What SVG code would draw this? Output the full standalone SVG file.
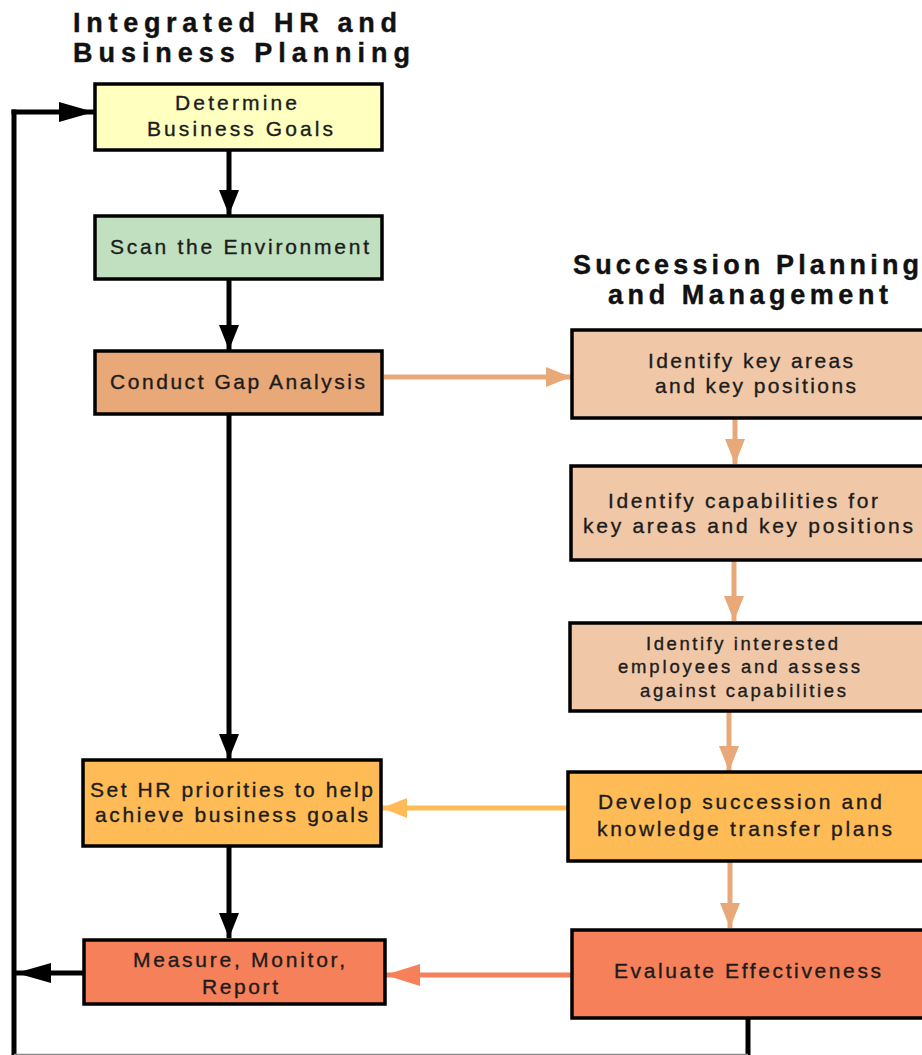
<svg xmlns="http://www.w3.org/2000/svg" width="922" height="1055" viewBox="0 0 922 1055">
<defs>
<style>
.box{stroke:#000;stroke-width:3.5}
.t{font-family:"Liberation Sans",Arial,sans-serif;font-size:21px;fill:#1c1c1c;stroke:#1c1c1c;stroke-width:0.35}
.ts{font-family:"Liberation Sans",Arial,sans-serif;font-size:18.5px;fill:#1c1c1c;stroke:#1c1c1c;stroke-width:0.35}
.title{font-family:"Liberation Sans",Arial,sans-serif;font-size:27px;font-weight:bold;fill:#111;stroke:#111;stroke-width:0.4}
.blk{stroke:#000;stroke-width:5;fill:none}
.org{stroke:#E8A878;stroke-width:5;fill:none}
.yel{stroke:#FFBB55;stroke-width:5;fill:none}
.red{stroke:#F5805A;stroke-width:5;fill:none}
</style>
<marker id="ab" markerUnits="userSpaceOnUse" markerWidth="26" markerHeight="20" refX="25" refY="10" orient="auto"><path d="M0,0 L25,10 L0,20 z" fill="#000"/></marker>
<marker id="ao" markerUnits="userSpaceOnUse" markerWidth="26" markerHeight="20" refX="25" refY="10" orient="auto"><path d="M0,0 L25,10 L0,20 z" fill="#E8A878"/></marker>
<marker id="ay" markerUnits="userSpaceOnUse" markerWidth="26" markerHeight="20" refX="25" refY="10" orient="auto"><path d="M0,0 L25,10 L0,20 z" fill="#FFBB55"/></marker>
<marker id="ar" markerUnits="userSpaceOnUse" markerWidth="36" markerHeight="22" refX="35" refY="11" orient="auto"><path d="M0,0 L35,11 L0,22 z" fill="#F5805A"/></marker>
<marker id="abl" markerUnits="userSpaceOnUse" markerWidth="36" markerHeight="20" refX="35" refY="10" orient="auto"><path d="M0,0 L35,10 L0,20 z" fill="#000"/></marker>
</defs>
<rect width="922" height="1055" fill="#fff"/>

<g id="titles">
<text class="title" x="73" y="32" textLength="324" lengthAdjust="spacing">Integrated HR and</text>
<text class="title" x="73" y="62" textLength="337" lengthAdjust="spacing">Business Planning</text>
<text class="title" x="573" y="274" textLength="346" lengthAdjust="spacing">Succession Planning</text>
<text class="title" x="608" y="304" textLength="280" lengthAdjust="spacing">and Management</text>
</g>

<g id="connectors">
<line class="blk" x1="229" y1="150" x2="229" y2="215" marker-end="url(#ab)"/>
<line class="blk" x1="229" y1="279" x2="229" y2="350" marker-end="url(#ab)"/>
<line class="blk" x1="229" y1="414" x2="229" y2="759" marker-end="url(#ab)"/>
<line class="blk" x1="229" y1="846" x2="229" y2="938" marker-end="url(#ab)"/>
<line class="blk" x1="83" y1="973" x2="16" y2="973" marker-end="url(#abl)"/>
<line class="blk" x1="14" y1="1055" x2="14" y2="109.5"/>
<line class="blk" x1="11.5" y1="112" x2="94" y2="112" marker-end="url(#abl)"/>
<line class="blk" x1="748" y1="1019" x2="748" y2="1055"/>
<line x1="14" y1="1054.5" x2="748" y2="1054.5" stroke="#8a8a8a" stroke-width="1.5"/>
<line class="org" x1="384" y1="377" x2="571" y2="377" marker-end="url(#ao)"/>
<line class="org" x1="735" y1="419" x2="735" y2="464" marker-end="url(#ao)"/>
<line class="org" x1="734" y1="560" x2="734" y2="621" marker-end="url(#ao)"/>
<line class="org" x1="729" y1="712" x2="729" y2="771" marker-end="url(#ao)"/>
<line class="org" x1="730" y1="862" x2="730" y2="928" marker-end="url(#ao)"/>
<line class="yel" x1="567" y1="808" x2="382" y2="808" marker-end="url(#ay)"/>
<line class="red" x1="571" y1="975" x2="385" y2="975" marker-end="url(#ar)"/>
</g>

<g id="n1">
<rect class="box" x="95" y="84" width="287" height="66" fill="#FFFFC0"/>
<text class="t" x="175" y="110" textLength="122" lengthAdjust="spacing">Determine</text>
<text class="t" x="147" y="136" textLength="186" lengthAdjust="spacing">Business Goals</text>
</g>
<g id="n2">
<rect class="box" x="95" y="216" width="287" height="63" fill="#C0E0C0"/>
<text class="t" x="110" y="254" textLength="259" lengthAdjust="spacing">Scan the Environment</text>
</g>
<g id="n3">
<rect class="box" x="95" y="351" width="287" height="63" fill="#E8A878"/>
<text class="t" x="110" y="389" textLength="255" lengthAdjust="spacing">Conduct Gap Analysis</text>
</g>
<g id="n4">
<rect class="box" x="83" y="760" width="298" height="86" fill="#FFBB55"/>
<text class="t" x="90" y="797" textLength="283" lengthAdjust="spacing">Set HR priorities to help</text>
<text class="t" x="95" y="822" textLength="273" lengthAdjust="spacing">achieve business goals</text>
</g>
<g id="n5">
<rect class="box" x="84" y="940" width="301" height="64" fill="#F5805A"/>
<text class="t" x="133" y="967" textLength="212" lengthAdjust="spacing">Measure, Monitor,</text>
<text class="t" x="202" y="994" textLength="76" lengthAdjust="spacing">Report</text>
</g>
<g id="r1">
<rect class="box" x="572" y="330" width="360" height="88" fill="#F0C8A8"/>
<text class="t" x="648" y="368" textLength="205" lengthAdjust="spacing">Identify key areas</text>
<text class="t" x="655" y="393" textLength="201" lengthAdjust="spacing">and key positions</text>
</g>
<g id="r2">
<rect class="box" x="571" y="466" width="360" height="94" fill="#F0C8A8"/>
<text class="t" x="608" y="508" textLength="270" lengthAdjust="spacing">Identify capabilities for</text>
<text class="t" x="583" y="533" textLength="330" lengthAdjust="spacing">key areas and key positions</text>
</g>
<g id="r3">
<rect class="box" x="570" y="623" width="360" height="88" fill="#F0C8A8"/>
<text class="ts" x="646" y="650" textLength="192" lengthAdjust="spacing">Identify interested</text>
<text class="ts" x="618" y="673" textLength="242" lengthAdjust="spacing">employees and assess</text>
<text class="ts" x="640" y="697" textLength="206" lengthAdjust="spacing">against capabilities</text>
</g>
<g id="r4">
<rect class="box" x="568" y="772" width="362" height="89" fill="#FFBB55"/>
<text class="t" x="598" y="809" textLength="284" lengthAdjust="spacing">Develop succession and</text>
<text class="t" x="597" y="836" textLength="295" lengthAdjust="spacing">knowledge transfer plans</text>
</g>
<g id="r5">
<rect class="box" x="572" y="930" width="360" height="88" fill="#F5805A"/>
<text class="t" x="614" y="978" textLength="267" lengthAdjust="spacing">Evaluate Effectiveness</text>
</g>
</svg>
